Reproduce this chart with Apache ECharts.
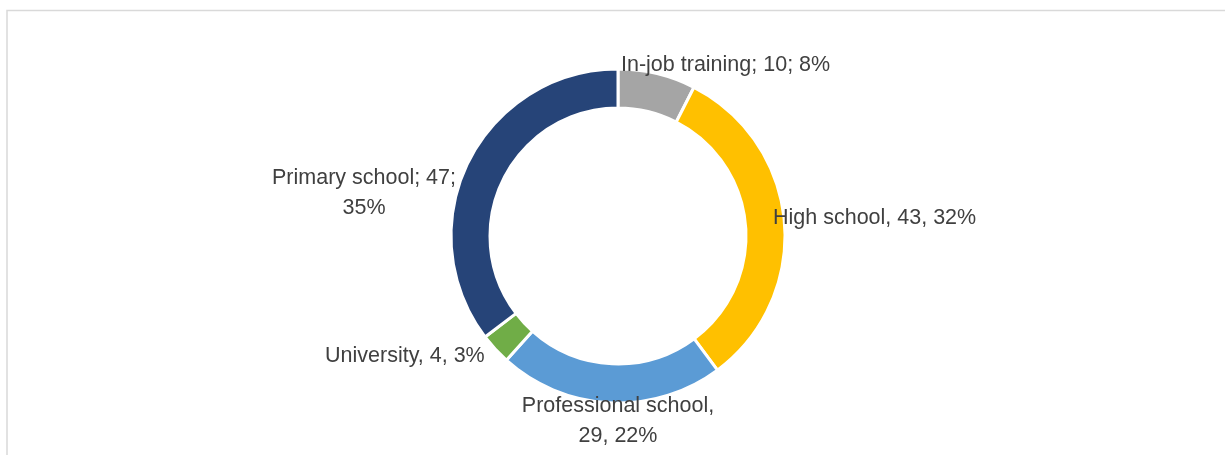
<!DOCTYPE html>
<html>
<head>
<meta charset="utf-8">
<script src="https://cdn.jsdelivr.net/npm/echarts@6/dist/echarts.min.js"></script>
<style>
  html, body { margin: 0; padding: 0; background: #fff; }
  #main { width: 1225px; height: 455px; }
</style>
</head>
<body>
<div id="main"></div>
<script>
// education levels, clockwise from 12 o'clock
const names = ['In-job training', 'High school', 'Professional school', 'University', 'Primary school']
const values = [10, 43, 29, 4, 47]
const colors = ['#A5A5A5', '#FFC000', '#5B9BD5', '#70AD47', '#264478']
// separators as written in the original labels
const seps = ['; ', ', ', ', ', ', ', '; ']
const breakAfter = ['', '', 'name', '', 'value'] // where the label wraps

// label anchor points (x, y, align)
const labelPos = [
  [621, 65, 'left'],
  [773, 218, 'left'],
  [618, 421, 'center'],
  [325, 356, 'left'],
  [364, 193, 'center']
]

const total = values.reduce((a, b) => a + b, 0)

const myChart = echarts.init(document.getElementById('main'))

const option = {
  animation: false,
  graphic: [
    {
      type: 'rect',
      silent: true,
      shape: { x: 7, y: 10.5, width: 1240, height: 470 },
      style: { fill: 'none', stroke: '#d9d9d9', lineWidth: 1.5 }
    }
  ],
  series: [
    {
      type: 'pie',
      center: [618, 236],
      radius: [128, 167],
      startAngle: 90,
      clockwise: true,
      avoidLabelOverlap: false,
      itemStyle: { borderColor: '#fff', borderWidth: 3 },
      label: {
        show: true,
        color: '#404040',
        fontSize: 21.5,
        lineHeight: 30,
        fontFamily: 'Liberation Sans',
        formatter: (p) => {
          const i = p.dataIndex
          const pct = Math.round(values[i] / total * 100) + '%'
          const s = seps[i]
          if (breakAfter[i] === 'name') return names[i] + s.trim() + '\n' + values[i] + s + pct
          if (breakAfter[i] === 'value') return names[i] + s + values[i] + s.trim() + '\n' + pct
          return names[i] + s + values[i] + s + pct
        }
      },
      labelLine: { show: false },
      labelLayout: (params) => {
        const pos = labelPos[params.dataIndex]
        return { x: pos[0], y: pos[1], align: pos[2], verticalAlign: 'middle' }
      },
      emphasis: { disabled: true },
      data: names.map((n, i) => ({ name: n, value: values[i], itemStyle: { color: colors[i] } }))
    }
  ]
}

option && myChart.setOption(option)
</script>
</body>
</html>
